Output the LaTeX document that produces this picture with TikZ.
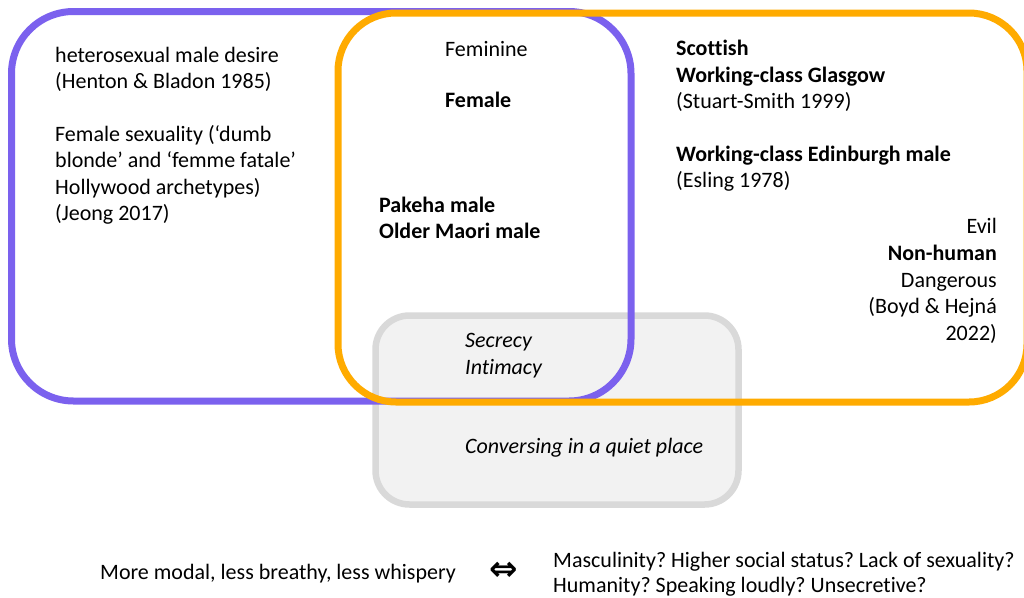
\documentclass[tikz,border=0pt]{standalone}
\usepackage{fontspec}
\setmainfont{Carlito}[Ligatures=NoCommon]
\newfontfamily\symfont{DejaVu Sans}
\definecolor{vpurple}{HTML}{7B61EE}
\definecolor{vorange}{HTML}{FFAB00}
\definecolor{vgrayline}{HTML}{D9D9D9}
\definecolor{vgrayfill}{HTML}{F2F2F2}
\begin{document}
\frenchspacing
\begin{tikzpicture}[x=1pt,y=-1pt,
  txt/.style={inner sep=0pt, anchor=base west, font=\fontsize{22}{26}\selectfont},
  rtxt/.style={txt, anchor=base east},
  bx/.style={line width=7pt, rounded corners=58pt}]
\useasboundingbox (0,0) rectangle (1024,597);
\clip (0,0) rectangle (1024,597);
% grey set
\draw[line width=6.5pt, rounded corners=34pt, draw=vgrayline, fill=vgrayfill] (375.5,315.5) rectangle (738.5,504.5);
% purple set
\draw[bx, draw=vpurple, rounded corners=62pt] (11.5,11.5) rectangle (631,401);
% orange set
\draw[bx, draw=vorange] (338,13) rectangle (1027,402);
% left texts
\node[txt] (l1) at (55,62) {heterosexual male desire};
\node[txt] (l2) at (55,88) {(Henton \& Bladon 1985)};
\node[txt] (l3) at (55,141) {Female sexuality (‘dumb};
\node[txt] (l4) at (55,167) {blonde’ and ‘femme fatale’};
\node[txt] (l5) at (55,194) {Hollywood archetypes)};
\node[txt] (l6) at (55,220) {(Jeong 2017)};
% middle texts
\node[txt] (m1) at (445,56) {Feminine};
\node[txt] (m2) at (445,107) {\bfseries Female};
\node[txt] (m3) at (379,212) {\bfseries Pakeha male};
\node[txt] (m4) at (379,238) {\bfseries Older Maori male};
% right texts
\node[txt] (r1) at (676,55) {\bfseries Scottish};
\node[txt] (r2) at (676,82) {\bfseries Working-class Glasgow};
\node[txt] (r3) at (676,108) {(Stuart-Smith 1999)};
\node[txt] (r4) at (676,161) {\bfseries Working-class Edinburgh male};
\node[txt] (r5) at (676,187) {(Esling 1978)};
\node[rtxt] (e1) at (997,233) {Evil};
\node[rtxt] (e2) at (997,260) {\bfseries Non-human};
\node[rtxt] (e3) at (997,287) {Dangerous};
\node[rtxt] (e4) at (997,313) {(Boyd \& Hejná};
\node[rtxt] (e5) at (997,340) {2022)};
% grey texts
\node[txt] (g1) at (465,347) {\itshape Secrecy};
\node[txt] (g2) at (465,374) {\itshape Intimacy};
\node[txt] (g3) at (465,453) {\itshape Conversing in a quiet place};
% bottom
\node[txt] (b1) at (100,579) {More modal, less breathy, less whispery};
\node[inner sep=0pt, anchor=base, font=\symfont\bfseries\fontsize{34}{34}\selectfont] (arr) at (503.5,580) {⇔};
\node[txt] (b2) at (553,567) {Masculinity? Higher social status? Lack of sexuality?};
\node[txt] (b3) at (553,592) {Humanity? Speaking loudly? Unsecretive?};
\end{tikzpicture}
\end{document}
